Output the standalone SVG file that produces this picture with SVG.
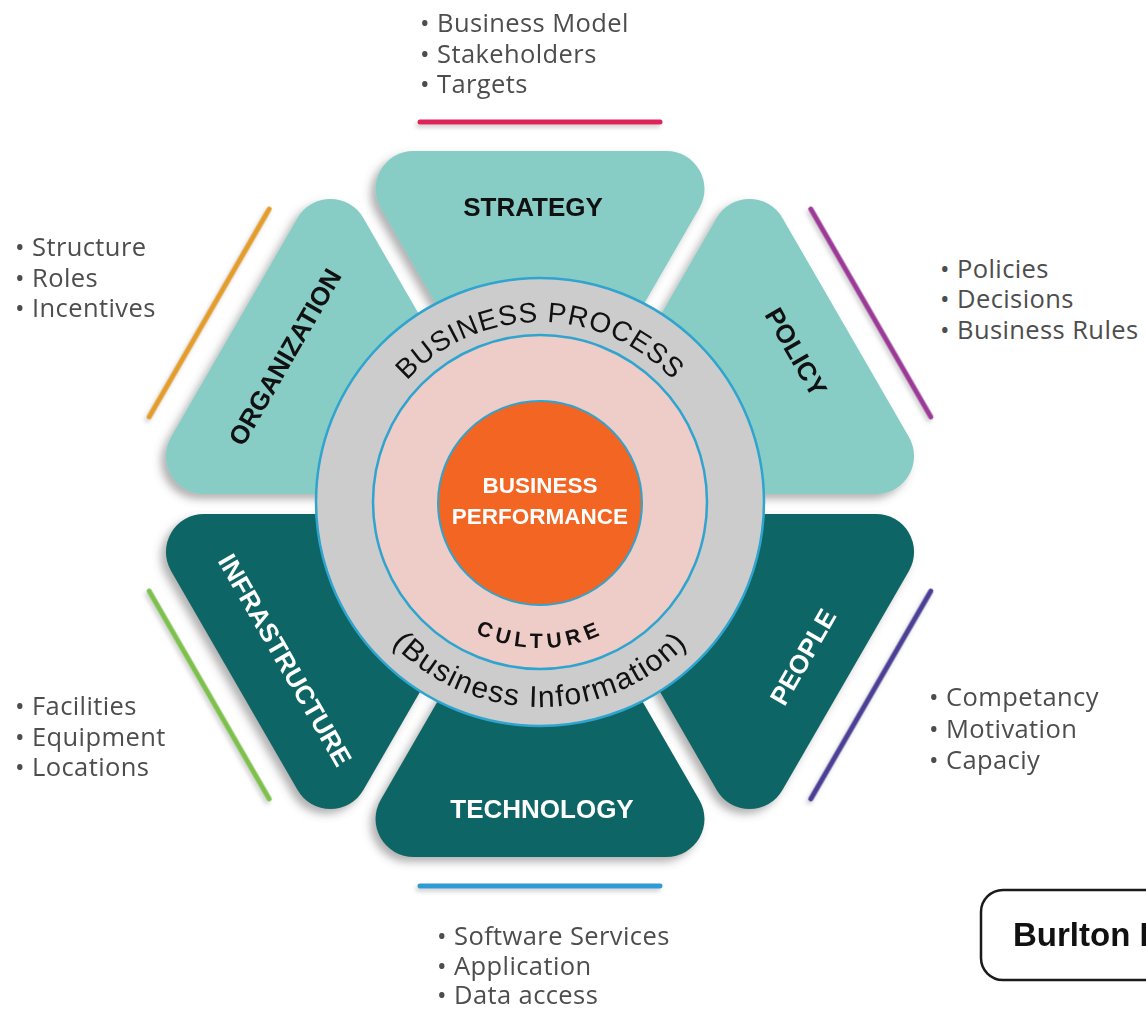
<svg xmlns="http://www.w3.org/2000/svg" width="1146" height="1010" viewBox="0 0 1146 1010">
<style>
.lt{fill:#87CDC6}
.dk{fill:#106665}
.lbl{font-family:"Liberation Sans",Arial,sans-serif;font-weight:bold;font-size:26px;text-anchor:middle}
.blk{fill:#111}
.wht{fill:#fff}
.lst{font-family:"Open Sans","Liberation Sans",sans-serif;font-size:25.5px;fill:#4d4d4d;letter-spacing:0.4px}
.acc{stroke-width:5;stroke-linecap:round;fill:none}
.ring{font-family:"Liberation Sans",Arial,sans-serif;fill:#111}
</style>
<defs>
<path id="petal" d="M0,-20 L-159.4,-296 A38,38 0 0 1 -126.5,-353 L126.5,-353 A38,38 0 0 1 159.4,-296 Z"/>
<filter id="sh" x="-20%" y="-20%" width="140%" height="140%">
<feDropShadow dx="-5" dy="5" stdDeviation="4" flood-color="#555" flood-opacity="0.45"/>
</filter>
<filter id="lsh" x="-20%" y="-50%" width="140%" height="200%">
<feDropShadow dx="-2" dy="3" stdDeviation="2" flood-color="#777" flood-opacity="0.35"/>
</filter>
<path id="arcTop" d="M360,502 A180,180 0 0 1 720,502"/>
<path id="arcBot" d="M335,502 A205,205 0 0 0 745,502"/>
<path id="arcCul" d="M394,502 A146,146 0 0 0 686,502"/>
</defs>
<rect width="1146" height="1010" fill="#fff"/>

<g id="connectors" filter="url(#lsh)">
<line class="acc" stroke="#E0245A" x1="-120" y1="-382" x2="120" y2="-382" transform="translate(540,504)"/>
<line class="acc" stroke="#9B3A97" x1="-120" y1="-382" x2="120" y2="-382" transform="translate(540,504) rotate(60)"/>
<line class="acc" stroke="#4B3F96" x1="-120" y1="-382" x2="120" y2="-382" transform="translate(540,504) rotate(120)"/>
<line class="acc" stroke="#2E9AD6" x1="-120" y1="-382" x2="120" y2="-382" transform="translate(540,504) rotate(180)"/>
<line class="acc" stroke="#7DC04B" x1="-120" y1="-382" x2="120" y2="-382" transform="translate(540,504) rotate(240)"/>
<line class="acc" stroke="#E39D2B" x1="-120" y1="-382" x2="120" y2="-382" transform="translate(540,504) rotate(300)"/>
</g>

<g id="strategy">
<g filter="url(#sh)"><use href="#petal" class="lt" transform="translate(540,504)"/></g>
<text class="lbl blk" x="533" y="216">STRATEGY</text>
<text class="lst" x="420" y="32">• Business Model</text>
<text class="lst" x="420" y="63">• Stakeholders</text>
<text class="lst" x="420" y="93">• Targets</text>
</g>

<g id="policy">
<g filter="url(#sh)"><use href="#petal" class="lt" transform="translate(540,504) rotate(60)"/></g>
<text class="lbl blk" transform="translate(796,352) rotate(60)" x="0" y="9">POLICY</text>
<text class="lst" x="940" y="278">• Policies</text>
<text class="lst" x="940" y="308">• Decisions</text>
<text class="lst" x="940" y="339">• Business Rules</text>
</g>

<g id="organization">
<g filter="url(#sh)"><use href="#petal" class="lt" transform="translate(540,504) rotate(-60)"/></g>
<text class="lbl blk" transform="translate(285,357) rotate(-60)" x="0" y="9">ORGANIZATION</text>
<text class="lst" x="15" y="256">• Structure</text>
<text class="lst" x="15" y="287">• Roles</text>
<text class="lst" x="15" y="317">• Incentives</text>
</g>

<g id="infrastructure">
<g filter="url(#sh)"><use href="#petal" class="dk" transform="translate(540,504) rotate(-120)"/></g>
<text class="lbl wht" transform="translate(285,660) rotate(60)" x="0" y="9">INFRASTRUCTURE</text>
<text class="lst" x="15" y="715">• Facilities</text>
<text class="lst" x="15" y="746">• Equipment</text>
<text class="lst" x="15" y="776">• Locations</text>
</g>

<g id="people">
<g filter="url(#sh)"><use href="#petal" class="dk" transform="translate(540,504) rotate(120)"/></g>
<text class="lbl wht" transform="translate(803,657) rotate(-60)" x="0" y="9">PEOPLE</text>
<text class="lst" x="929" y="706">• Competancy</text>
<text class="lst" x="929" y="738">• Motivation</text>
<text class="lst" x="929" y="769">• Capaciy</text>
</g>

<g id="technology">
<g filter="url(#sh)"><use href="#petal" class="dk" transform="translate(540,504) rotate(180)"/></g>
<text class="lbl wht" x="542" y="818">TECHNOLOGY</text>
<text class="lst" x="437" y="945">• Software Services</text>
<text class="lst" x="437" y="975">• Application</text>
<text class="lst" x="437" y="1004">• Data access</text>
</g>

<g id="business-process">
<circle cx="540" cy="502" r="224" fill="#CCCCCC" stroke="#2FA4CF" stroke-width="2.5"/>
<text class="ring" font-size="28" letter-spacing="0.8"><textPath href="#arcTop" startOffset="50%" text-anchor="middle">BUSINESS PROCESS</textPath></text>
<text class="ring" font-size="30" letter-spacing="1.4"><textPath href="#arcBot" startOffset="50%" text-anchor="middle">(Business Information)</textPath></text>
</g>

<g id="culture">
<circle cx="540" cy="502" r="167" fill="#EECCC7" stroke="#2FA4CF" stroke-width="2.5"/>
<text class="ring" font-size="21" font-weight="bold" letter-spacing="5"><textPath href="#arcCul" startOffset="50%" text-anchor="middle">CULTURE</textPath></text>
</g>

<g id="business-performance">
<circle cx="540" cy="503" r="102" fill="#F26522" stroke="#2FA4CF" stroke-width="2"/>
<text class="lbl wht" x="540" y="493" style="font-size:22.5px">BUSINESS</text>
<text class="lbl wht" x="540" y="524" style="font-size:22.5px">PERFORMANCE</text>
</g>

<g id="title">
<rect x="981" y="890" width="220" height="90" rx="22" fill="#fff" stroke="#1a1a1a" stroke-width="2.5"/>
<text x="1013" y="946" font-family="Liberation Sans, Arial, sans-serif" font-weight="bold" font-size="33" fill="#111">Burlton H</text>
</g>
</svg>
